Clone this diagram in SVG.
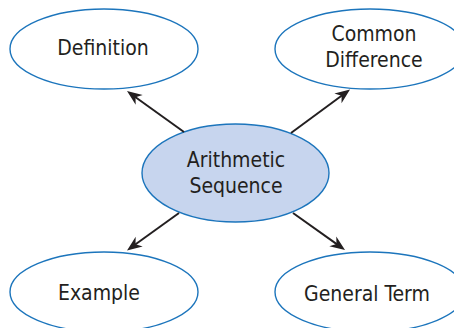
<svg xmlns="http://www.w3.org/2000/svg" width="454" height="328" viewBox="0 0 454 328">
  <style>
    .node { fill: #ffffff; stroke: #1c75bc; stroke-width: 1.4; }
    .center { fill: #c7d5ee; stroke: #1c75bc; stroke-width: 1.4; }
    .label { font-family: "DejaVu Sans Condensed", "DejaVu Sans", sans-serif; font-stretch: condensed; font-size: 21px; fill: #231f20; text-anchor: middle; }
    .conn { stroke: #231f20; stroke-width: 2; fill: none; marker-end: url(#arrow); }
  </style>
  <defs>
    <marker id="arrow" viewBox="-16 -7 16 14" refX="-8" refY="0" markerWidth="16" markerHeight="14" markerUnits="userSpaceOnUse" orient="auto">
      <path d="M0,0 L-15,-6 L-10.5,0 L-15,6 Z" fill="#231f20"/>
    </marker>
  </defs>
  <rect width="454" height="328" fill="#ffffff"/>
  <g id="node-definition">
    <ellipse class="node" cx="104" cy="49" rx="94" ry="40"/>
    <text class="label" x="103" y="55">Definition</text>
  </g>
  <g id="node-common-difference">
    <ellipse class="node" cx="370" cy="49" rx="95" ry="40"/>
    <text class="label" x="374" y="41">Common</text>
    <text class="label" x="374" y="67">Difference</text>
  </g>
  <g id="node-example">
    <ellipse class="node" cx="104" cy="292" rx="94" ry="40"/>
    <text class="label" x="99" y="300">Example</text>
  </g>
  <g id="node-general-term">
    <ellipse class="node" cx="370" cy="292" rx="95" ry="40"/>
    <text class="label" x="367" y="301">General Term</text>
  </g>
  <g id="node-arithmetic-sequence">
    <ellipse class="center" cx="235.5" cy="173" rx="93.5" ry="49"/>
    <text class="label" x="236" y="167">Arithmetic</text>
    <text class="label" x="236" y="193">Sequence</text>
  </g>
  <g id="connectors">
    <line class="conn" x1="184" y1="132" x2="133.5" y2="95.7"/>
    <line class="conn" x1="291" y1="133" x2="343.6" y2="94.2"/>
    <line class="conn" x1="179" y1="213" x2="133.5" y2="245.8"/>
    <line class="conn" x1="293" y1="213" x2="338.5" y2="245.4"/>
  </g>
</svg>
